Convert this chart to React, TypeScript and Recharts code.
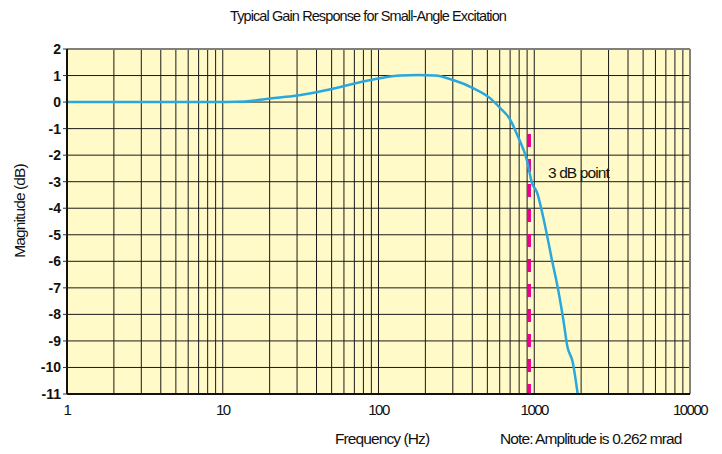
import React from 'react'
import { LineChart, Line, XAxis, YAxis, CartesianGrid, ReferenceLine } from 'recharts'

const freqHz = [1, 3, 8, 14, 18, 24, 31, 42, 57, 76, 102, 137, 180, 231, 301, 404, 520, 603, 699, 786, 898, 967, 1042, 1138, 1294, 1427, 1537, 1630, 1766, 1901]
const gainDb = [0, 0, 0, 0.02, 0.1, 0.18, 0.26, 0.4, 0.57, 0.75, 0.9, 1.0, 1.02, 1.0, 0.83, 0.53, 0.15, -0.22, -0.65, -1.3, -2.2, -3.05, -3.4, -4.3, -5.9, -7.1, -8.2, -9.2, -9.8, -11.0]

const majorTicks = [1, 10, 100, 1000, 10000]
const minorMult = [1, 2, 3, 4, 5, 6, 7, 8, 9]
const yTicks = [2, 1, 0, -1, -2, -3, -4, -5, -6, -7, -8, -9, -10, -11]

const cutoffHz = 925
const cutoffTop = -1.2

const xTicks = majorTicks.slice(0, -1).flatMap(d => minorMult.map(m => m * d)).concat([10000])
const data = freqHz.map((f, i) => ({ f, g: gainDb[i] }))

const font = '"Liberation Sans", Arial, sans-serif'

export default function App() {
  return (
    <div style={{ position: 'absolute', left: 0, top: 0, width: 722, height: 454, background: '#fff', fontFamily: font }}>
      <div style={{ position: 'absolute', left: 0, width: 736, top: 8, textAlign: 'center', fontSize: 14.5, letterSpacing: -0.9, color: '#111' }}>
        Typical Gain Response for Small-Angle Excitation
      </div>
      <LineChart width={722} height={454} data={data} margin={{ top: 49, right: 32, bottom: 30, left: 27 }}>
        <CartesianGrid stroke="#1a1a1a" strokeWidth={1} fill="#FFFAC8" fillOpacity={1} />
        <XAxis
          dataKey="f"
          type="number"
          scale="log"
          domain={[1, 10000]}
          ticks={xTicks}
          interval={0}
          tickFormatter={(v: number) => (majorTicks.includes(v) ? String(v) : '')}
          tickLine={false}
          tickSize={0}
          tickMargin={10}
          height={30}
          axisLine={{ stroke: '#111', strokeWidth: 2 }}
          tick={{ fontSize: 15, fill: '#111', letterSpacing: -1.5, fontFamily: font }}
          allowDataOverflow
        />
        <YAxis
          type="number"
          domain={[-11, 2]}
          ticks={yTicks}
          interval={0}
          width={40}
          tickSize={4}
          tickMargin={2}
          tickLine={{ stroke: '#333' }}
          axisLine={{ stroke: '#111', strokeWidth: 2 }}
          tick={{ fontSize: 14, fontWeight: 'bold', fill: '#111', fontFamily: font }}
          allowDataOverflow
        />
        <ReferenceLine y={2} stroke="#808080" strokeWidth={2} />
        <ReferenceLine x={10000} stroke="#808080" strokeWidth={2} />
        <ReferenceLine
          segment={[{ x: cutoffHz, y: cutoffTop }, { x: cutoffHz, y: -11 }]}
          stroke="#EC008C"
          strokeWidth={4}
          strokeDasharray="13 12"
        />
        <Line
          type="monotone"
          dataKey="g"
          stroke="#29A8E0"
          strokeWidth={2.5}
          dot={false}
          isAnimationActive={false}
        />
      </LineChart>
      <div style={{ position: 'absolute', left: 548, top: 164, fontSize: 15.5, letterSpacing: -0.9, color: '#111' }}>3 dB point</div>
      <div
        style={{
          position: 'absolute', left: 20, top: 211, transform: 'translate(-50%, -50%) rotate(-90deg)',
          fontSize: 15.5, letterSpacing: -0.9, color: '#111', whiteSpace: 'nowrap',
        }}
      >
        Magnitude (dB)
      </div>
      <div style={{ position: 'absolute', left: 335, top: 430, fontSize: 15.5, letterSpacing: -0.9, color: '#111', whiteSpace: 'nowrap' }}>Frequency (Hz)</div>
      <div style={{ position: 'absolute', left: 500, top: 430, fontSize: 15.5, letterSpacing: -0.9, color: '#111', whiteSpace: 'nowrap' }}>
        Note: Amplitude is 0.262 mrad
      </div>
    </div>
  )
}
